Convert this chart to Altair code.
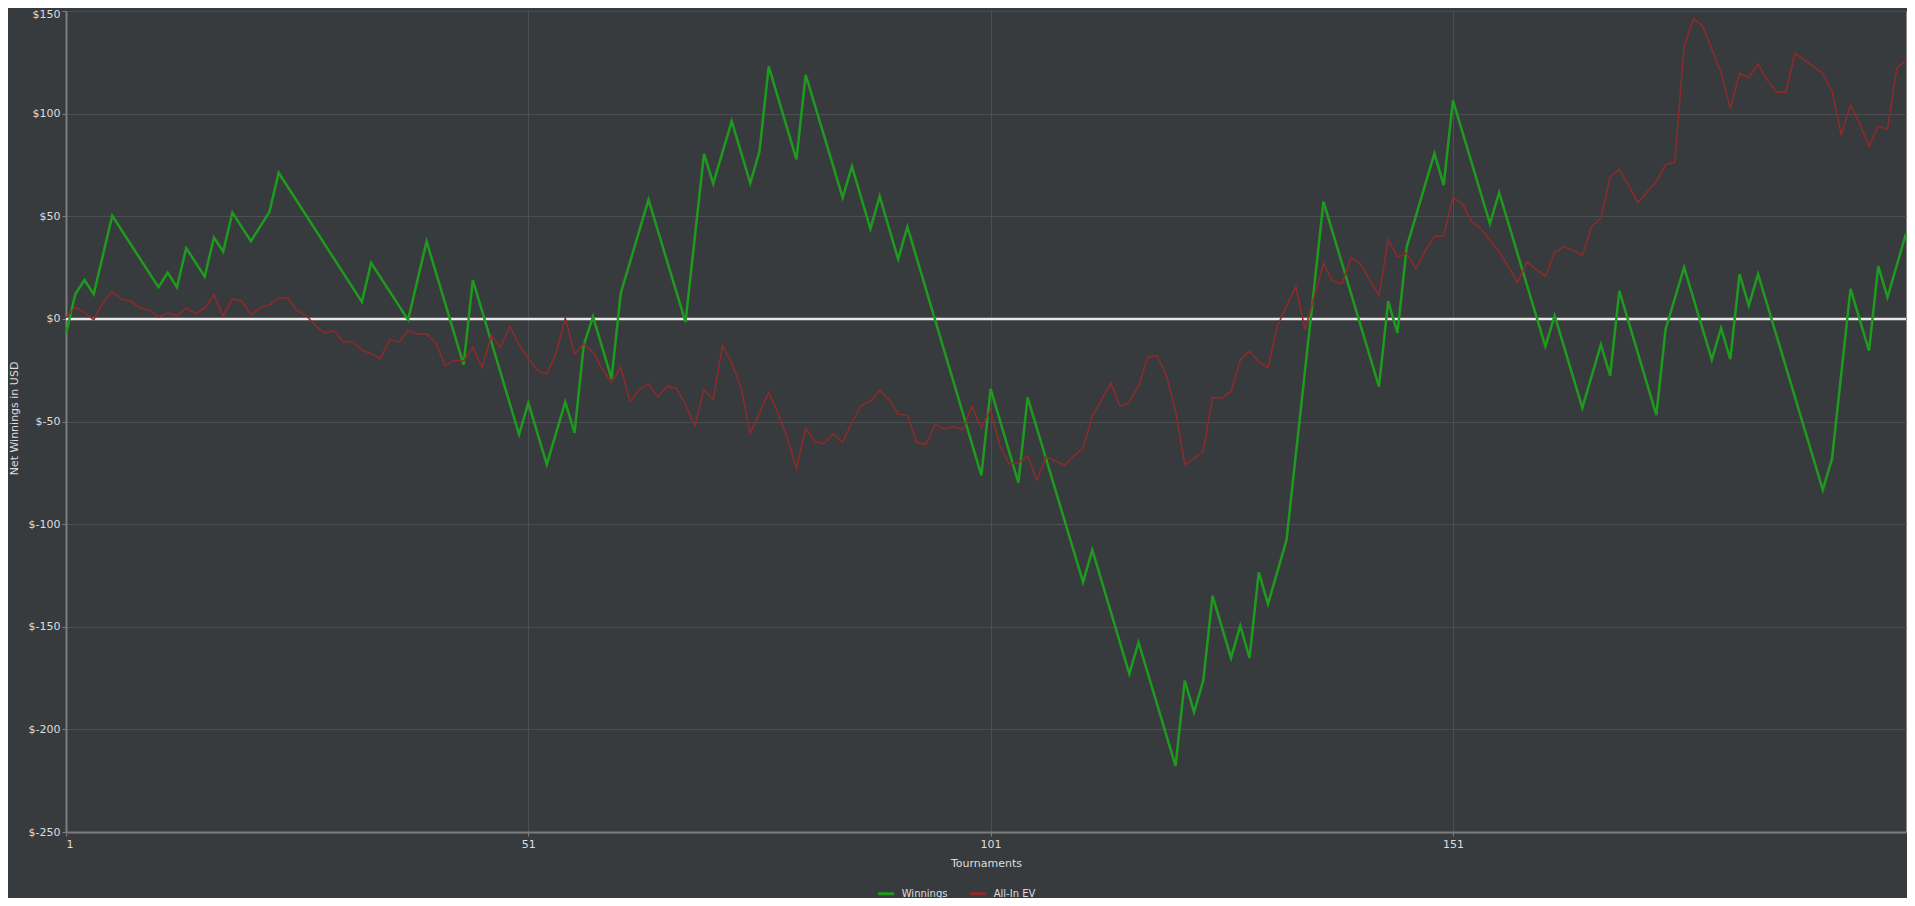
import altair as alt
import pandas as pd

# ---- data ----
win_t = [1, 2, 3, 4, 6, 11, 12, 13, 14, 16, 17, 18, 19, 21, 23, 24, 33, 34, 38, 40,
         44, 45, 50, 51, 53, 55, 56, 57, 58, 60, 61, 64, 68, 70, 71, 73, 75, 76, 77, 80,
         81, 85, 86, 88, 89, 91, 92, 100, 101, 104, 105, 111, 112, 116, 117, 121, 122, 123, 124, 125,
         127, 128, 129, 130, 131, 133, 137, 143, 144, 145, 146, 149, 150, 151, 155, 156, 161, 162, 165, 167,
         168, 169, 173, 174, 176, 179, 180, 181, 182, 183, 184, 191, 192, 194, 196, 197, 198, 200]
win_v = [-7.4, 12.0, 18.9, 12.0, 50.3, 15.4, 22.5, 15.4, 34.5, 20.6, 39.6, 32.8, 51.8, 37.9, 52.1, 71.2, 8.3, 27.3, -0.5, 37.7,
         -22.3, 18.9, -56.3, -40.9, -70.9, -40.5, -55.5, -12.6, 1.1, -29.1, 12.5, 58.1, -1.6, 80.4, 65.9, 96.3, 66.2, 81.6, 123.0, 77.7,
         118.9, 59.1, 74.3, 43.9, 59.7, 29.1, 44.8, -76.2, -34.1, -79.8, -38.2, -128.3, -112.6, -173.0, -157.6, -217.8, -176.2, -191.6, -176.2, -135.0,
         -165.2, -149.5, -165.2, -123.5, -138.9, -107.8, 57.1, -33.0, 8.6, -6.8, 35.0, 80.6, 65.2, 106.5, 46.4, 61.5, -13.4, 1.6, -43.4, -12.6,
         -27.7, 13.6, -46.9, -5.0, 25.1, -19.9, -4.5, -19.6, 21.8, 6.5, 21.8, -83.3, -68.1, 14.6, -15.5, 25.7, 10.5, 41.6]

ev_v = [0.6, 5.7, 3.1, -0.5, 8.1, 13.3, 9.5, 8.7, 5.3, 4.2,
        0.8, 2.8, 1.5, 5.2, 2.6, 5.2, 11.7, 1.3, 9.7, 8.7,
        1.9, 5.5, 6.8, 10.2, 10.2, 4.0, 1.5, -3.4, -7.0, -5.7,
        -11.2, -11.0, -15.2, -17.0, -19.4, -10.2, -11.2, -5.5, -7.4, -7.3,
        -11.7, -22.7, -20.1, -20.6, -13.8, -23.9, -8.1, -13.9, -3.7, -12.6,
        -19.1, -25.2, -26.9, -16.7, 0.3, -17.2, -12.1, -16.3, -24.3, -30.9,
        -23.5, -40.3, -34.5, -31.6, -38.0, -32.8, -33.8, -41.7, -52.3, -34.5,
        -39.3, -12.9, -21.5, -33.3, -55.8, -45.8, -35.8, -45.8, -57.9, -73.0,
        -53.1, -60.0, -60.7, -56.0, -60.0, -50.6, -42.2, -40.1, -34.8, -39.3,
        -46.3, -47.1, -60.0, -61.2, -51.3, -53.7, -52.4, -53.9, -42.6, -53.2,
        -44.2, -61.7, -70.7, -70.2, -66.8, -78.5, -67.2, -69.3, -71.2, -66.8,
        -62.9, -47.4, -39.3, -31.2, -42.6, -40.6, -32.8, -18.6, -18.0, -27.5,
        -44.8, -71.0, -68.0, -64.4, -38.3, -38.7, -35.4, -20.1, -15.7, -21.0,
        -23.8, -3.6, 6.1, 15.9, -5.2, 10.8, 26.9, 18.3, 17.3, 29.9,
        26.7, 19.1, 11.3, 38.5, 30.1, 32.0, 24.4, 33.2, 40.1, 40.6,
        59.2, 56.3, 47.7, 44.0, 38.3, 32.7, 25.4, 17.8, 27.8, 24.1,
        20.9, 32.4, 35.1, 33.5, 31.1, 45.1, 49.2, 69.1, 73.0, 65.0,
        56.6, 61.8, 67.0, 75.2, 76.4, 132.5, 146.3, 142.7, 131.4, 120.1,
        102.3, 119.6, 117.6, 124.1, 116.3, 110.4, 110.4, 129.4, 126.2, 122.8,
        119.6, 110.8, 89.8, 104.2, 95.0, 84.1, 93.9, 92.4, 122.0, 126.1]
ev_t = list(range(1, len(ev_v) + 1))

series_names = ["Winnings", "All-In EV"]
series_colors = ["#1e9b1e", "#8f2a2a"]
x_ticks = [1, 51, 101, 151]
y_ticks = [-250, -200, -150, -100, -50, 0, 50, 100, 150]

win_df = pd.DataFrame({"Tournament": win_t, "Net": win_v, "Series": series_names[0]})
ev_df = pd.DataFrame({"Tournament": ev_t, "Net": ev_v, "Series": series_names[1]})
zero_df = pd.DataFrame({"Net": [0]})

BG = "#383b3e"
TXT = "#dedede"
FONT = "DejaVu Sans"
W, H = 1840, 821

x_enc = alt.X(
    "Tournament:Q",
    scale=alt.Scale(domain=[1, 200], nice=False, zero=False),
    axis=alt.Axis(values=x_ticks, title="Tournaments", titleX=W / 2, titleY=31,
                  titleBaseline="middle", titleAlign="center"),
)
y_enc = alt.Y(
    "Net:Q",
    scale=alt.Scale(domain=[-250, 150], nice=False, zero=False),
    axis=alt.Axis(values=y_ticks, title="Net Winnings in USD", labelExpr="'$' + datum.value",
                  labelOffset={"condition": {"test": "datum.value === 150", "value": 3}, "value": 0},
                  titleX=-51.5, titleY=407, titleBaseline="middle", titleAlign="center"),
)
color_enc = alt.Color(
    "Series:N",
    scale=alt.Scale(domain=series_names, range=series_colors),
    legend=alt.Legend(orient="none", legendX=810.7, legendY=873, direction="horizontal",
                      title=None, symbolType="stroke", symbolSize=256, symbolStrokeWidth=3,
                      labelFontSize=10, labelColor=TXT, labelFont=FONT, labelOffset=6,
                      columnPadding=16, padding=0),
)

zero_rule = alt.Chart(zero_df).mark_rule(color="#e8e8e8", strokeWidth=2.5).encode(y=y_enc)
win_line = alt.Chart(win_df).mark_line(strokeWidth=2.5).encode(x=x_enc, y=y_enc, color=color_enc)
ev_line = alt.Chart(ev_df).mark_line(strokeWidth=1.5).encode(x=x_enc, y=y_enc, color=color_enc)

chart = (
    alt.layer(zero_rule, win_line, ev_line)
    .properties(width=W, height=H, background=BG,
                padding={"left": 58, "top": 3, "right": 1, "bottom": 66},
                autosize=alt.AutoSizeParams(type="none"))
    .configure_view(fill=BG, stroke="#8a8a8a", strokeWidth=1)
    .configure_axis(
        labelFont=FONT, titleFont=FONT, labelFontSize=11, titleFontSize=11,
        labelColor=TXT, titleColor=TXT, titleFontWeight="normal",
        domainColor="#7d7d7d", domainWidth=2, tickColor="#7d7d7d", tickSize=4,
        labelPadding=2, gridColor="#4b4e52", gridWidth=1, grid=True,
    )
)

chart.save("out.html", embed_options={"renderer": "svg", "actions": False})
